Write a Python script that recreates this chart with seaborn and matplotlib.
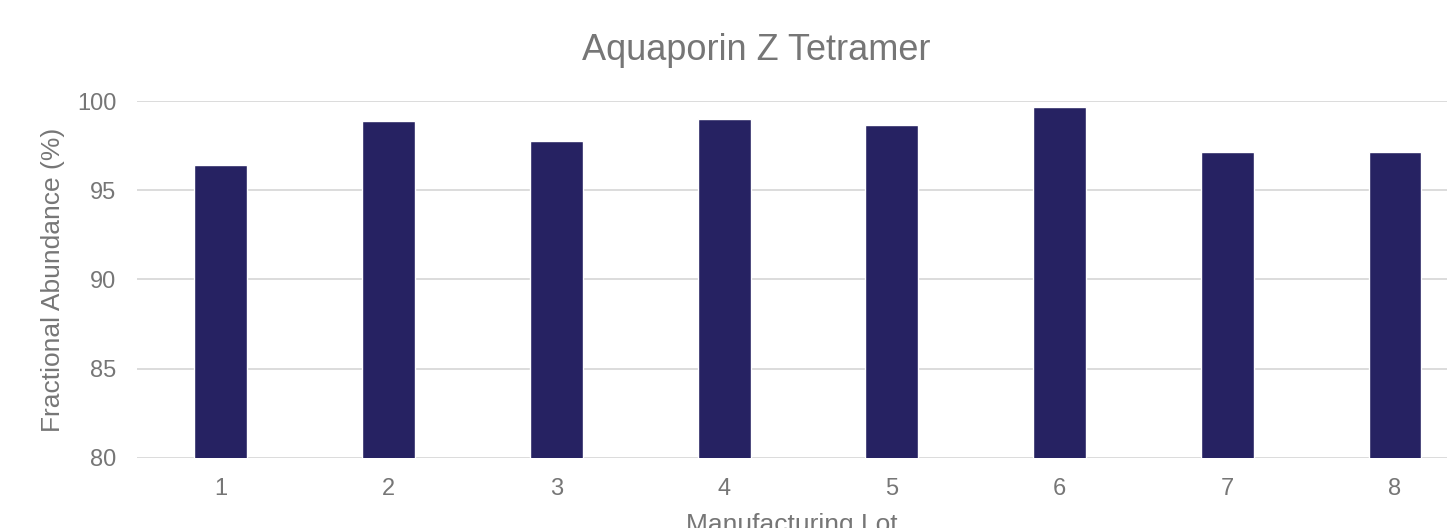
import numpy as np
import pandas as pd
import matplotlib
matplotlib.use('Agg')
import matplotlib.pyplot as plt
import seaborn as sns

lots = ['1', '2', '3', '4', '5', '6', '7', '8']
abundance = [96.43, 98.9, 97.78, 99.02, 98.68, 99.69, 97.15, 97.15]

df = pd.DataFrame({'lot': lots, 'abundance': abundance})

sns.set_style('white')
plt.rcParams['font.family'] = ['Liberation Sans', 'DejaVu Sans']

gray = '#767676'

fig = plt.figure(figsize=(14.47, 5.28), dpi=100)
ax = fig.add_axes([0.0947, 0.1335, 0.9053, 0.6743])

sns.barplot(data=df, x='lot', y='abundance', color='#262262', width=0.315,
            saturation=1, ax=ax, zorder=3)

ax.set_ylim(80, 100)
ax.set_yticks([80, 85, 90, 95, 100])
ax.set_xlim(-0.5, 7.31)
ax.grid(axis='y', color='#d9d9d9', linewidth=1.3, zorder=0)
ax.set_axisbelow(True)
for s in ax.spines.values():
    s.set_visible(False)
ax.tick_params(axis='both', length=0, pad=15, labelsize=17, labelcolor=gray)

ax.set_xlabel('Manufacturing Lot', fontsize=19, color=gray)
ax.set_ylabel('Fractional Abundance (%)', fontsize=19, color=gray)
ax.xaxis.set_label_coords(0.5, -0.155)
ax.yaxis.set_label_coords(-0.055, 0.5)

fig.text(0.5225, 0.887, 'Aquaporin Z Tetramer', fontsize=26, color=gray,
         ha='center', va='baseline')

fig.savefig('out.png', dpi=100)
